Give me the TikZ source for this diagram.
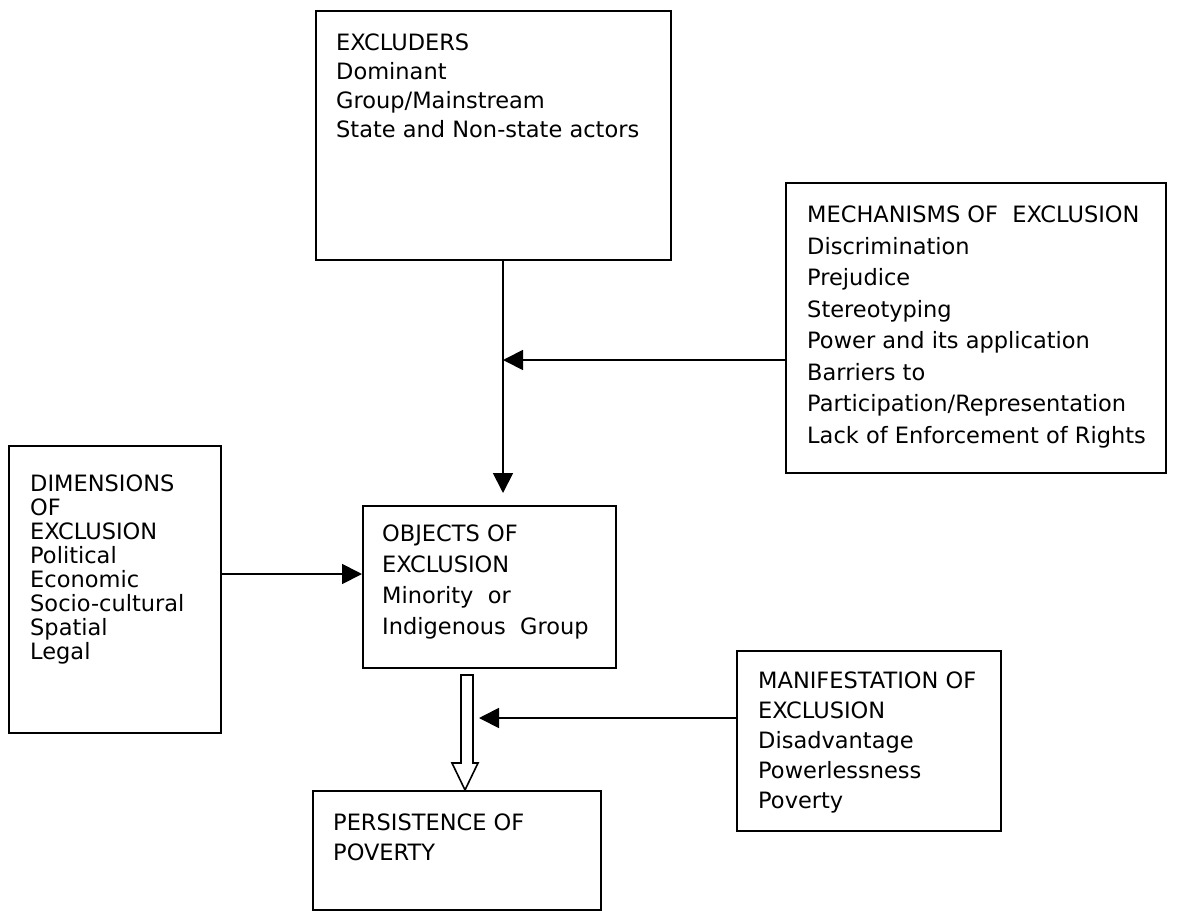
\documentclass[tikz,border=0pt]{standalone}
\usepackage{fontspec}
\setmainfont{DejaVu Sans}
\usetikzlibrary{arrows.meta}

\tikzset{
  box/.style={draw, line width=1.8pt, anchor=north west, inner sep=0pt},
  boxtext/.style={anchor=north west, inner sep=0pt, align=left},
  link/.style={line width=1.8pt, -{Triangle[length=20pt,width=20pt]}},
}

\begin{document}
\begin{tikzpicture}[x=1pt,y=-1pt]
\useasboundingbox (0,0) rectangle (1185,910);

% boxes
\node [box, minimum width=355pt, minimum height=249pt] (excl) at (315,10) {};
\node [box, minimum width=380pt, minimum height=290pt] (mech) at (785,182) {};
\node [box, minimum width=212pt, minimum height=287pt] (dim) at (8,445) {};
\node [box, minimum width=253pt, minimum height=162pt] (obj) at (362,505) {};
\node [box, minimum width=264pt, minimum height=180pt] (man) at (736,650) {};
\node [box, minimum width=288pt, minimum height=119pt] (pers) at (312,790) {};

% texts
\node [boxtext, font=\fontsize{22.5}{29}\selectfont] (excltext) at ([shift={(21,24)}]excl.north west)
  {EXCLUDERS\\Dominant\\Group/Mainstream\\State and Non-state actors};
\node [boxtext, font=\fontsize{22.5}{31.5}\selectfont] (mechtext) at ([shift={(22,24)}]mech.north west)
  {MECHANISMS OF\ \ EXCLUSION\\Discrimination\\Prejudice\\Stereotyping\\Power and its application\\Barriers to\\Participation/Representation\\Lack of Enforcement of Rights};
\node [boxtext, font=\fontsize{22.5}{24}\selectfont] (dimtext) at ([shift={(22,30)}]dim.north west)
  {DIMENSIONS\\OF\\EXCLUSION\\Political\\Economic\\Socio-cultural\\Spatial\\Legal};
\node [boxtext, font=\fontsize{22.5}{31}\selectfont] (objtext) at ([shift={(20,20)}]obj.north west)
  {OBJECTS OF\\EXCLUSION\\Minority\ \ or\\Indigenous\ \ Group};
\node [boxtext, font=\fontsize{22.5}{30}\selectfont] (mantext) at ([shift={(22,22)}]man.north west)
  {MANIFESTATION OF\\EXCLUSION\\Disadvantage\\Powerlessness\\Poverty};
\node [boxtext, font=\fontsize{22.5}{30}\selectfont] (perstext) at ([shift={(21,24)}]pers.north west)
  {PERSISTENCE OF\\POVERTY};

% connectors
\coordinate (spine) at (503,0);
\coordinate (mecharr) at (0,360);
\coordinate (dimarr) at (0,574);
\coordinate (manarr) at (0,718);
\draw [link] (excl.south -| spine) -- ([yshift=12pt]obj.north -| spine);
\draw [link] (mech.west |- mecharr) -- (spine |- mecharr);
\draw [link] (dim.east |- dimarr) -- (obj.west |- dimarr);
\draw [link] (man.west |- manarr) -- (479,718);

% hollow arrow
\draw [line width=1.6pt, line join=miter, fill=white]
  (461,675) -- (473,675) -- (473,763) -- (478,763) -- (465,790)
  -- (452,763) -- (461,763) -- cycle;

\end{tikzpicture}
\end{document}
